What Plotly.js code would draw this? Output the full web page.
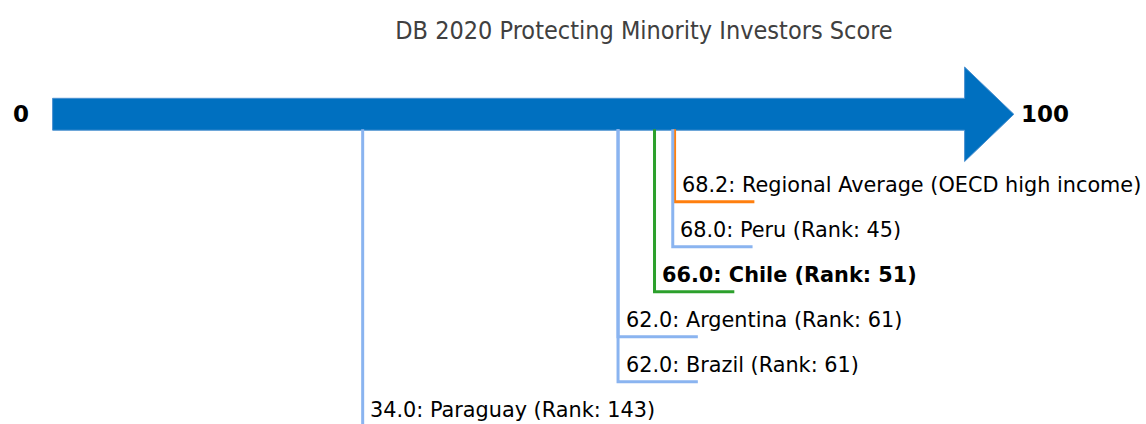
<!DOCTYPE html>
<html>
<head>
<meta charset="utf-8">
<script src="https://cdn.plot.ly/plotly-3.0.1.min.js"></script>
<style>
html, body { margin: 0; padding: 0; background: #ffffff; }
#chart { width: 1146px; height: 424px; }
</style>
</head>
<body>
<div id="chart"></div>
<script>
// ---- data ----
const names  = ["Regional Average (OECD high income)", "Peru", "Chile", "Argentina", "Brazil", "Paraguay"];
const scores = [68.2, 68.0, 66.0, 62.0, 62.0, 34.0];
const ranks  = [null, 45, 51, 61, 61, 143];
const kinds  = ["region", "peer", "focus", "peer", "peer", "peer"];
const scaleMin = 0;
const scaleMax = 100;
const chartTitle = "DB 2020 Protecting Minority Investors Score";

// ---- style ----
const colors = { region: "#ff7f0e", focus: "#2ca02c", peer: "#8ab4f0" };
const arrowColor = "#0070c0";
const W = 1146, H = 424;
const pxPerUnit = 9.12;
const x0px = 52.6;
const xlo = (0 - x0px) / pxPerUnit;
const xhi = (W - x0px) / pxPerUnit;

const bodyTop = 98.3, bodyBot = 130.2, headTop = 67, headBot = 161.5;
const headLen = 5.4;          // in score units beyond the max
const firstLevel = 201.7, levelStep = 45;
const tickLen = 8.75;         // horizontal foot length, score units
const textDx = 0.6, textDy = 17;

const traces = [];
const annotations = [];
scores.forEach((s, i) => {
  const lvl = firstLevel + levelStep * i;
  traces.push({
    type: "scatter", mode: "lines",
    x: [s, s, s + tickLen],
    y: [bodyBot - 1, lvl, lvl],
    line: { color: colors[kinds[i]], width: 3 },
    hoverinfo: "skip", showlegend: false
  });
  const label = s.toFixed(1) + ": " + names[i] + (ranks[i] !== null ? " (Rank: " + ranks[i] + ")" : "");
  annotations.push({
    x: s + textDx, y: lvl - textDy, xref: "x", yref: "y",
    xanchor: "left", yanchor: "middle", showarrow: false,
    text: kinds[i] === "focus" ? "<b>" + label + "</b>" : label,
    font: { family: "DejaVu Sans", size: 20.8, color: "#000000" }
  });
});

// end labels
annotations.push({
  x: scaleMin, y: (bodyTop + bodyBot) / 2, xref: "x", yref: "y",
  xanchor: "center", yanchor: "middle", xshift: -32, showarrow: false,
  text: "<b>" + scaleMin + "</b>",
  font: { family: "DejaVu Sans", size: 23, color: "#000000" }
});
annotations.push({
  x: scaleMax + headLen, y: (bodyTop + bodyBot) / 2, xref: "x", yref: "y",
  xanchor: "left", yanchor: "middle", xshift: 5, showarrow: false,
  text: "<b>" + scaleMax + "</b>",
  font: { family: "DejaVu Sans", size: 23, color: "#000000" }
});

const mid = (bodyTop + bodyBot) / 2;
const arrowPath = "M " + scaleMin + "," + bodyTop +
  " L " + scaleMax + "," + bodyTop +
  " L " + scaleMax + "," + headTop +
  " L " + (scaleMax + headLen) + "," + mid +
  " L " + scaleMax + "," + headBot +
  " L " + scaleMax + "," + bodyBot +
  " L " + scaleMin + "," + bodyBot + " Z";

const layout = {
  width: W, height: H,
  margin: { l: 0, r: 0, t: 0, b: 0 },
  paper_bgcolor: "#ffffff", plot_bgcolor: "#ffffff",
  title: {
    text: chartTitle,
    x: 644 / W, xanchor: "center", xref: "paper",
    y: 1 - 30 / H, yanchor: "middle", yref: "container",
    font: { family: "DejaVu Sans Condensed, DejaVu Sans", size: 25, color: "#404040" }
  },
  xaxis: { range: [xlo, xhi], visible: false, fixedrange: true },
  yaxis: { range: [H, 0], visible: false, fixedrange: true },
  shapes: [{
    type: "path", xref: "x", yref: "y", path: arrowPath,
    fillcolor: arrowColor, line: { color: "#4a90d0", width: 1 }, layer: "below"
  }],
  annotations: annotations,
  showlegend: false
};

Plotly.newPlot("chart", traces, layout, { displayModeBar: false, staticPlot: true });
</script>
</body>
</html>
